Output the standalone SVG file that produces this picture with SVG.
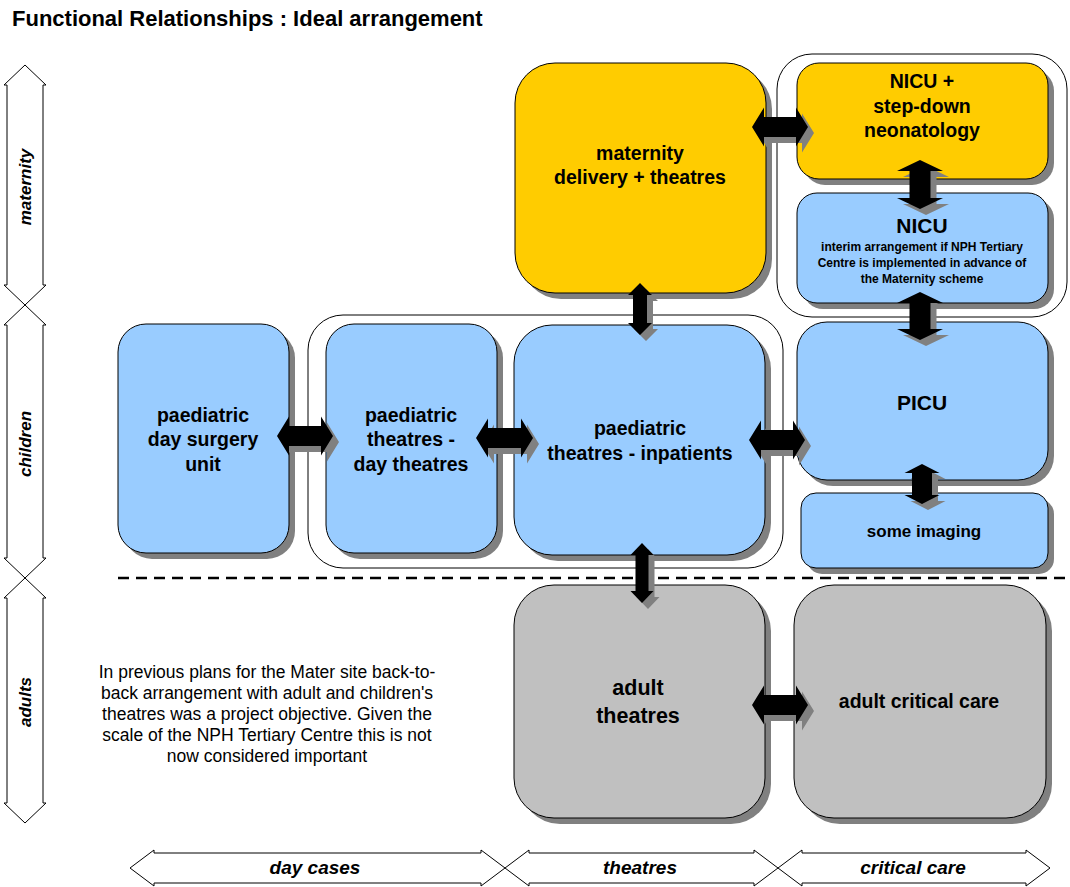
<svg xmlns="http://www.w3.org/2000/svg" width="1070" height="887" viewBox="0 0 1070 887">
<style>
text{font-family:"Liberation Sans",Arial,sans-serif;fill:#000}
.t{font-weight:bold;font-size:19.5px;text-anchor:middle}
.s{font-weight:bold;font-size:12px;text-anchor:middle}
.p{font-size:17.5px;text-anchor:middle}
.lab{font-weight:bold;font-style:italic;font-size:17px;text-anchor:middle}
.blab{font-weight:bold;font-style:italic;font-size:19px;text-anchor:middle}
.box{stroke:#000;stroke-width:1}
.sh{fill:#808080}
.y{fill:#FFCC00}
.b{fill:#99CCFF}
.g{fill:#C0C0C0}
.cont{fill:#fff;stroke:#000;stroke-width:1}
.band{fill:#fff;stroke:#000;stroke-width:1}
.arr{fill:#000}
</style>
<defs>
<path id="h1" d="M752,127 L764,107.5 L764,117 L796,117 L796,107.5 L808,127 L796,146.5 L796,137 L764,137 L764,146.5 Z"/>
<path id="h2" d="M277,436 L289,416.5 L289,426 L321,426 L321,416.5 L333,436 L321,455.5 L321,446 L289,446 L289,455.5 Z"/>
<path id="h3" d="M476,438 L488,418.5 L488,428 L521,428 L521,418.5 L533,438 L521,457.5 L521,448 L488,448 L488,457.5 Z"/>
<path id="h4" d="M749,440 L761,420.5 L761,430 L793,430 L793,420.5 L805,440 L793,459.5 L793,450 L761,450 L761,459.5 Z"/>
<path id="h5" d="M752,705 L764,685.5 L764,695 L796,695 L796,685.5 L808,705 L796,724.5 L796,715 L764,715 L764,724.5 Z"/>
<path id="v1" d="M640,283 L652,295 L647,295 L647,323 L652,323 L640,335 L628,323 L633,323 L633,295 L628,295 Z"/>
<path id="v2" d="M920,160 L943,171 L930.5,171 L930.5,198 L943,198 L920,209 L897,198 L909.5,198 L909.5,171 L897,171 Z"/>
<path id="v3" d="M920,292 L943,303 L930.5,303 L930.5,329 L943,329 L920,340 L897,329 L909.5,329 L909.5,303 L897,303 Z"/>
<path id="v4" d="M922,464 L939.5,473 L932,473 L932,495 L939.5,495 L922,504 L904.5,495 L912,495 L912,473 L904.5,473 Z"/>
<path id="v5" d="M642,543 L653.5,555 L648.5,555 L648.5,591 L653.5,591 L642,603 L630.5,591 L635.5,591 L635.5,555 L630.5,555 Z"/>
</defs>
<rect width="1070" height="887" fill="#fff"/>
<text x="12" y="26" style="font-weight:bold;font-size:22px">Functional Relationships : Ideal arrangement</text>

<g id="bands">
<g id="band-maternity">
<path class="band" d="M25,65 L46,85 L43,85 L43,285 L46,285 L25,305 L4,285 L7,285 L7,85 L4,85 Z"/>
<text class="lab" transform="translate(31,187) rotate(-90)">maternity</text>
</g>
<g id="band-children">
<path class="band" d="M25,305 L46,325 L43,325 L43,558 L46,558 L25,578 L4,558 L7,558 L7,325 L4,325 Z"/>
<text class="lab" transform="translate(31,444) rotate(-90)">children</text>
</g>
<g id="band-adults">
<path class="band" d="M25,578 L46,598 L43,598 L43,803 L46,803 L25,823 L4,803 L7,803 L7,598 L4,598 Z"/>
<text class="lab" transform="translate(31,702) rotate(-90)">adults</text>
</g>
<g id="band-daycases">
<path class="band" d="M130,868 L154,850 L154,853 L481,853 L481,850 L505,868 L481,886 L481,883 L154,883 L154,886 Z"/>
<text class="blab" x="315" y="874">day cases</text>
</g>
<g id="band-theatres">
<path class="band" d="M505,868 L529,850 L529,853 L754,853 L754,850 L778,868 L754,886 L754,883 L529,883 L529,886 Z"/>
<text class="blab" x="640" y="874">theatres</text>
</g>
<g id="band-critical">
<path class="band" d="M778,868 L802,850 L802,853 L1026,853 L1026,850 L1050,868 L1026,886 L1026,883 L802,883 L802,886 Z"/>
<text class="blab" x="913" y="874">critical care</text>
</g>
</g>

<g id="containers">
<rect class="cont" x="777" y="54" width="290" height="263" rx="35"/>
<rect class="cont" x="308" y="315" width="475" height="253" rx="35"/>
</g>

<line x1="118" y1="578" x2="1068" y2="578" stroke="#000" stroke-width="2.5" stroke-dasharray="11,7"/>

<g id="maternity">
<rect class="sh" x="521" y="69" width="251" height="230" rx="40"/>
<rect class="box y" x="515" y="63" width="251" height="230" rx="40"/>
<text class="t" x="640" y="160">maternity</text>
<text class="t" x="640" y="184">delivery + theatres</text>
</g>
<g id="nicu-stepdown">
<rect class="sh" x="803" y="69" width="251" height="116" rx="22"/>
<rect class="box y" x="797" y="63" width="251" height="116" rx="22"/>
<text class="t" x="922" y="88">NICU +</text>
<text class="t" x="922" y="113">step-down</text>
<text class="t" x="922" y="137">neonatology</text>
</g>
<g id="nicu">
<rect class="sh" x="803" y="199" width="251" height="110" rx="20"/>
<rect class="box b" x="797" y="193" width="251" height="110" rx="20"/>
<text class="t" x="922" y="233" style="font-size:21px">NICU</text>
<text class="s" x="922" y="251">interim arrangement if NPH Tertiary</text>
<text class="s" x="922" y="267">Centre is implemented in advance of</text>
<text class="s" x="922" y="283">the Maternity scheme</text>
</g>
<g id="picu">
<rect class="sh" x="803" y="328" width="251" height="158" rx="30"/>
<rect class="box b" x="797" y="322" width="251" height="158" rx="30"/>
<text class="t" x="922" y="410" style="font-size:21px">PICU</text>
</g>
<g id="imaging">
<rect class="sh" x="807" y="499" width="247" height="75" rx="15"/>
<rect class="box b" x="801" y="493" width="247" height="75" rx="15"/>
<text class="t" x="924" y="537" style="font-size:17px">some imaging</text>
</g>
<g id="day-surgery">
<rect class="sh" x="124" y="330" width="171" height="229" rx="28"/>
<rect class="box b" x="118" y="324" width="171" height="229" rx="28"/>
<text class="t" x="203" y="422">paediatric</text>
<text class="t" x="203" y="446">day surgery</text>
<text class="t" x="203" y="471">unit</text>
</g>
<g id="day-theatres">
<rect class="sh" x="332" y="330" width="171" height="229" rx="28"/>
<rect class="box b" x="326" y="324" width="171" height="229" rx="28"/>
<text class="t" x="411" y="422">paediatric</text>
<text class="t" x="411" y="446">theatres -</text>
<text class="t" x="411" y="471">day theatres</text>
</g>
<g id="inpatients">
<rect class="sh" x="520" y="331" width="251" height="230" rx="38"/>
<rect class="box b" x="514" y="325" width="251" height="230" rx="38"/>
<text class="t" x="640" y="435">paediatric</text>
<text class="t" x="640" y="460">theatres - inpatients</text>
</g>
<g id="adult-theatres">
<rect class="sh" x="520" y="591" width="251" height="233" rx="40"/>
<rect class="box g" x="514" y="585" width="251" height="233" rx="40"/>
<text class="t" x="638" y="695" style="font-size:21.5px">adult</text>
<text class="t" x="638" y="723" style="font-size:21.5px">theatres</text>
</g>
<g id="adult-cc">
<rect class="sh" x="800" y="591" width="252" height="233" rx="40"/>
<rect class="box g" x="794" y="585" width="252" height="233" rx="40"/>
<text class="t" x="919" y="708">adult critical care</text>
</g>

<g id="note">
<text class="p" x="267" y="678">In previous plans for the Mater site back-to-</text>
<text class="p" x="267" y="699">back arrangement with adult and children's</text>
<text class="p" x="267" y="720">theatres was a project objective. Given the</text>
<text class="p" x="267" y="741">scale of the NPH Tertiary Centre this is not</text>
<text class="p" x="267" y="762">now considered important</text>
</g>

<g id="connectors">
<g transform="translate(6,6)" class="sh">
<use href="#h1"/><use href="#h2"/><use href="#h3"/><use href="#h4"/><use href="#h5"/>
<use href="#v1"/><use href="#v2"/><use href="#v3"/><use href="#v4"/><use href="#v5"/>
</g>
<g class="arr">
<use href="#h1"/><use href="#h2"/><use href="#h3"/><use href="#h4"/><use href="#h5"/>
<use href="#v1"/><use href="#v2"/><use href="#v3"/><use href="#v4"/><use href="#v5"/>
</g>
</g>
</svg>
